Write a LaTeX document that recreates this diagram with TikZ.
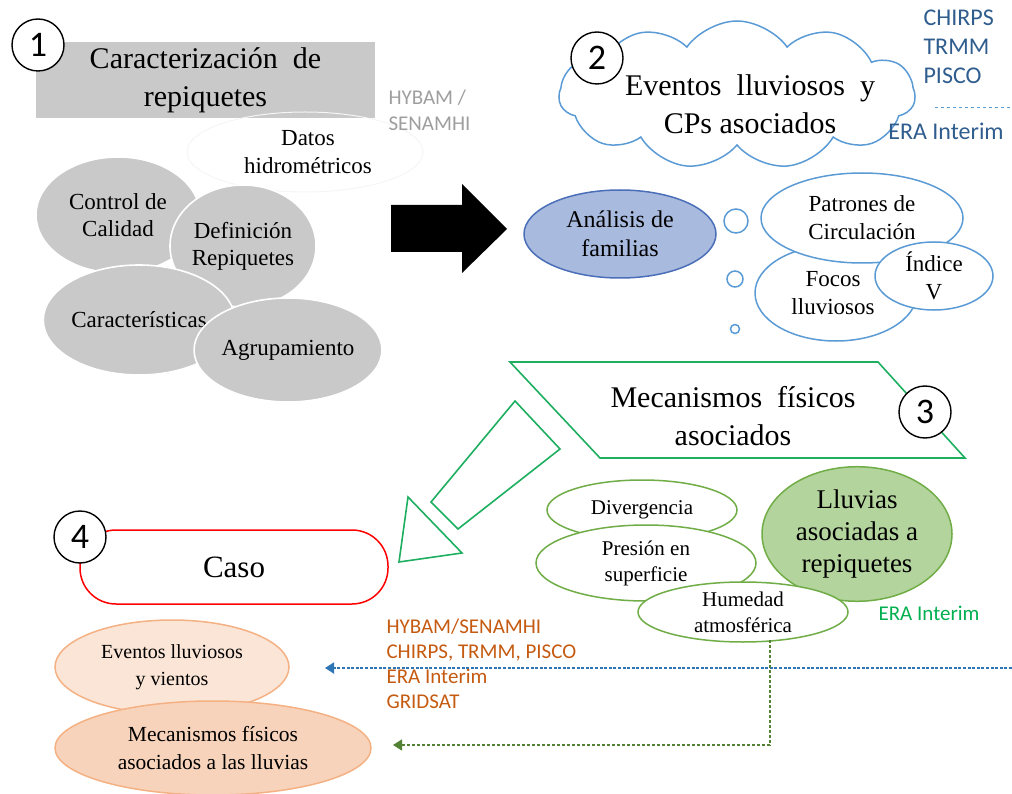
\documentclass[tikz,border=0pt]{standalone}
\usepackage{fontspec}
\setmainfont{Liberation Serif}
\newfontfamily\calib{Carlito}
\usepackage{xcolor}
\usetikzlibrary{arrows.meta,shapes.geometric,shapes.symbols,calc}

\definecolor{boxgray}{HTML}{C9C9C9}
\definecolor{skyline}{HTML}{5B9BD5}
\definecolor{famfill}{HTML}{A9BADF}
\definecolor{famline}{HTML}{4A6FB8}
\definecolor{leafline}{HTML}{70AD47}
\definecolor{leaffill}{HTML}{B3D49D}
\definecolor{chevgreen}{HTML}{1DAF5F}
\definecolor{srcblue}{HTML}{2F5D8E}
\definecolor{srcorange}{HTML}{C55A11}
\definecolor{srcgreen}{HTML}{00B050}
\definecolor{peachline}{HTML}{F4B183}
\definecolor{peachlight}{HTML}{FBE5D6}
\definecolor{peachdark}{HTML}{F8D3BB}
\definecolor{darkleaf}{HTML}{548235}
\definecolor{arrowblue}{HTML}{2E75B6}

\tikzset{
	numcirc/.style={circle, draw=black, line width=1.4pt, fill=white, minimum size=52pt, inner sep=0pt, font=\calib\fontsize{36}{36}\selectfont},
	grayell/.style={ellipse, fill=boxgray, draw=white, line width=1.6pt, inner sep=0pt, align=center, font=\fontsize{23}{27}\selectfont},
	blueell/.style={ellipse, fill=white, draw=skyline, line width=1.5pt, inner sep=0pt, align=center, font=\fontsize{23}{28}\selectfont},
	greenell/.style={ellipse, fill=white, draw=leafline, line width=1.5pt, inner sep=0pt, align=center, font=\fontsize{21}{26}\selectfont},
	peachell/.style={ellipse, draw=peachline, line width=1.5pt, inner sep=0pt, align=center, font=\fontsize{20}{27}\selectfont},
	bigtitle/.style={align=center, font=\fontsize{30}{38}\selectfont},
	srclabel/.style={anchor=west, align=left, font=\calib\fontsize{21}{25}\selectfont}
}

\begin{document}
\begin{tikzpicture}[x=1pt,y=-1pt]
	\useasboundingbox (0,0) rectangle (1012,794);

	% 1: caracterizacion
	\node[fill=boxgray, minimum width=339pt, minimum height=76pt, bigtitle] (carac) at (205.5,80) {Caracterización\ \ de\\repiquetes};
	\node[numcirc] (one) at (38,45) {1};
	\node[ellipse, draw=black!4, line width=1pt, minimum width=236pt, minimum height=80pt, align=center, font=\fontsize{23}{28}\selectfont] (datos) at (305,152) {\hspace*{6pt}Datos\\\hspace*{6pt}hidrométricos};
	\node[srclabel, text=black!38, font=\calib\fontsize{21}{26}\selectfont] (hybam) at (385,110) {HYBAM /\\SENAMHI};
	\node[grayell, minimum width=164pt, minimum height=116pt] (calidad) at (118,215) {Control de\\Calidad};
	\node[grayell, minimum width=146pt, minimum height=122pt] (defin) at (243,246) {Definición\\Repiquetes};
	\node[grayell, minimum width=168pt, minimum height=110pt] (caract) at (139,320) {Características};
	\node[grayell, minimum width=172pt, minimum height=104pt] (agrup) at (288,350) {Agrupamiento};

	% flecha negra
	\fill (391,205) -- (462,205) -- (462,184) -- (507,229) -- (462,273) -- (462,252) -- (391,252) -- cycle;

	% 2: eventos lluviosos
	\node[cloud, cloud puffs=11, cloud puff arc=110, cloud ignores aspect, draw=skyline, line width=1.5pt, minimum width=356pt, minimum height=148pt] (nube) at (737,95) {};
	\node[bigtitle] (nubetxt) at (750,104) {Eventos\ \ lluviosos\ \ y\\CPs asociados};
	\node[numcirc] (two) at (597,58) {2};
	\node[srclabel, text=srcblue, font=\calib\fontsize{24}{29}\selectfont] (chirps) at (920,47) {CHIRPS\\TRMM\\PISCO};
	\node[text=srcblue, font=\calib\fontsize{24}{24}\selectfont] (erablue) at (946,131) {ERA Interim};
	\coordinate (sepa) at (935,108);
	\coordinate (sepb) at (1012,108);
	\draw[skyline, dashed, line width=1pt] (sepa) -- (sepb);

	\node[ellipse, fill=famfill, draw=famline, line width=1.5pt, minimum width=192pt, minimum height=88pt, align=center, font=\fontsize{24}{29}\selectfont] (familias) at (620,234) {Análisis de\\familias};
	\node[circle, draw=skyline, line width=1.5pt, minimum size=24pt, inner sep=0pt] (burb1) at (736,221) {};
	\node[circle, draw=skyline, line width=1.5pt, minimum size=16pt, inner sep=0pt] (burb2) at (735,279) {};
	\node[circle, draw=skyline, line width=1.5pt, minimum size=9pt, inner sep=0pt] (burb3) at (735,329) {};
	\node[blueell, minimum width=162pt, minimum height=96pt] (focos) at (836,293) {\hspace*{-6pt}Focos\\\hspace*{-6pt}lluviosos};
	\node[blueell, minimum width=202pt, minimum height=90pt] (patrones) at (862,218) {Patrones de\\Circulación};
	\node[blueell, minimum width=118pt, minimum height=66pt] (indice) at (934,276) {Índice\\V};

	% 3: mecanismos fisicos
	\draw[chevgreen, line width=1.6pt] (510,362) -- (878,362) -- (965,458) -- (600,458) -- cycle;
	\node[bigtitle] (mecan) at (733,416) {Mecanismos\ \ físicos\\asociados};
	\node[numcirc] (three) at (925,412) {3};
	\draw[chevgreen, line width=1.6pt] (515,401) -- (560,449) -- (458,529) -- (431,502) -- cycle;
	\draw[chevgreen, line width=1.6pt] (408,497) -- (462,553) -- (399,562) -- cycle;

	\node[greenell, minimum width=190pt, minimum height=60pt] (diverg) at (642,510) {Divergencia};
	\node[greenell, minimum width=220pt, minimum height=76pt] (presion) at (646,563) {Presión en\\superficie};
	\node[ellipse, fill=leaffill, draw=leafline, line width=1.5pt, minimum width=190pt, minimum height=132pt, align=center, font=\fontsize{27}{32}\selectfont] (lluvias) at (857,534) {Lluvias\\asociadas a\\repiquetes};
	\node[greenell, minimum width=210pt, minimum height=60pt] (humedad) at (743,612) {Humedad\\atmosférica};
	\node[text=srcgreen, font=\calib\fontsize{21}{21}\selectfont] (eragreen) at (929,613) {ERA Interim};

	% 4: caso
	\node[draw=red, line width=1.5pt, rounded corners=36pt, minimum width=308pt, minimum height=74pt, font=\fontsize{31}{31}\selectfont] (caso) at (234,567) {Caso};
	\node[numcirc] (four) at (80,537) {4};
	\node[srclabel, text=srcorange] (fuentes) at (383,664) {HYBAM/SENAMHI\\CHIRPS, TRMM, PISCO\\ERA Interim\\GRIDSAT};
	\node[peachell, fill=peachlight, minimum width=234pt, minimum height=94pt] (eventos) at (172,667) {Eventos lluviosos\\y vientos};
	\node[peachell, fill=peachdark, minimum width=316pt, minimum height=94pt, font=\fontsize{21.5}{28}\selectfont] (mecfis) at (213,748) {Mecanismos físicos\\asociados a las lluvias};

	% conectores punteados
	\coordinate (bluein) at (1012,668);
	\coordinate (blueout) at (325,668);
	\draw[arrowblue, line width=1.8pt, dash pattern=on 3pt off 1.6pt, -{Triangle[length=9pt,width=11pt]}] (bluein) -- (blueout);
	\coordinate (greendown) at (770,640);
	\coordinate (greenout) at (393,745);
	\draw[darkleaf, line width=1.6pt, dash pattern=on 3pt off 2pt, -{Triangle[length=9pt,width=11pt]}] (greendown) |- (greenout);
\end{tikzpicture}
\end{document}
